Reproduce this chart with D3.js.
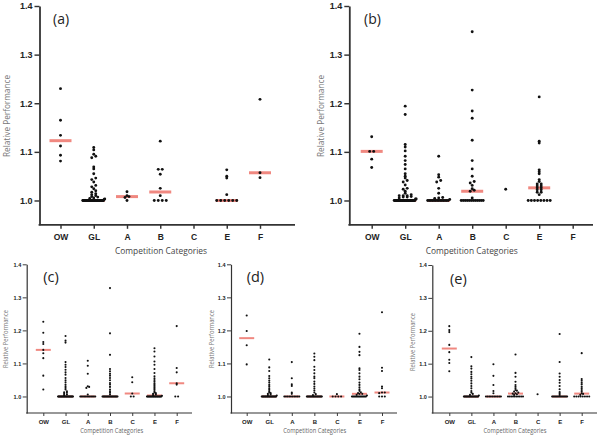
<!DOCTYPE html>
<html><head><meta charset="utf-8">
<script src="https://cdn.jsdelivr.net/npm/d3@7"></script>
<style>body{margin:0;background:#fff}</style>
</head><body><svg id="chart" width="600" height="439"></svg>
<script>
const categories = ["OW","GL","A","B","C","E","F"];
const yTicks = [1.0, 1.1, 1.2, 1.3, 1.4];
const yTickLabels = ["1.0","1.1","1.2","1.3","1.4"];
const panelLabels = ["(a)","(b)","(c)","(d)","(e)"];
const xTitle = "Competition Categories";
const yTitle = "Relative Performance";

// Panel (a) values per category: OW, GL, A, B, C, E, F
const valuesA = [
  [1.230,1.165,1.134,1.112,1.093,1.081],
  [1.109,1.104,1.095,1.091,1.088,1.069,1.065,1.055,1.046,1.043,1.038,1.031,1.028,1.024,1.020,1.017,1.014,1.012,1.010,1.008,1.007,1.005,1.004,1.003,1.002,
   1,1,1,1,1,1,1,1,1,1,1,1,1,1,1,1,1,1,1,1,1,1,1,1,1,1,1,1,1,1,1,1,1,1,1],
  [1.018,1.010,1.008,1.006,1.0],
  [1.122,1.064,1.064,1.054,1.025,1.010,1,1,1,1],
  [],
  [1.063,1.050,1.046,1.012,1,1,1,1,1,1],
  [1.208,1.057,1.047]
];
// Panel (b)
const valuesB = [
  [1.131,1.101,1.101,1.085,1.068],
  [1.194,1.177,1.115,1.110,1.102,1.091,1.082,1.074,1.065,1.055,1.050,1.046,1.041,1.038,1.032,1.025,1.023,1.019,1.015,1.012,1.010,1.010,1.010,1.008,1.007,1.007,1.005,1.003,1.003,
   1,1,1,1,1,1,1,1,1,1,1,1,1,1,1,1,1,1,1,1,1,1,1,1,1,1,1,1,1,1,1,1],
  [1.091,1.053,1.048,1.041,1.038,1.025,1.015,1.006,1.005,1.004,1.002,
   1,1,1,1,1,1,1,1,1,1,1,1,1,1],
  [1.347,1.227,1.184,1.169,1.124,1.082,1.065,1.050,1.039,1.036,1.031,1.024,1.021,1.019,1.005,
   1,1,1,1,1,1,1,1,1,1,1,1],
  [1.023],
  [1.213,1.122,1.118,1.063,1.059,1.055,1.043,1.039,1.034,1.034,1.030,1.030,1.026,1.026,1.022,1.022,1.017,1.017,1.012,
   1,1,1,1,1,1,1,1],
  []
];
// Panel (c)
const valuesC = [
  [1.226,1.193,1.165,1.159,1.141,1.131,1.116,1.063,1.021],
  [1.183,1.169,1.163,1.104,1.096,1.089,1.081,1.073,1.066,1.056,1.049,1.043,1.036,1.031,1.026,1.021,1.016,1.013,1.011,1.008,1.006,1.004,
   1,1,1,1,1,1,1,1,1,1,1,1,1,1,1,1,1,1,1,1,1,1,1,1,1],
  [1.108,1.093,1.069,1.031,1.029,1.026,1.006,
   1,1,1,1,1,1,1,1,1,1,1,1],
  [1.328,1.191,1.126,1.083,1.076,1.069,1.063,1.056,1.049,1.041,1.036,1.029,1.021,1.016,1.011,1.006,
   1,1,1,1,1,1,1,1,1,1,1,1,1,1,1,1,1,1,1,1],
  [1.058,1.043,1.009,1,1],
  [1.146,1.136,1.121,1.106,1.096,1.083,1.071,1.061,1.055,1.050,1.045,1.040,1.036,1.032,1.028,1.024,1.020,1.016,1.012,1.010,1.008,1.006,1.004,1.002,
   1,1,1,1,1,1,1,1,1,1,1,1,1,1,1,1,1,1,1,1,1,1],
  [1.213,1.086,1.073,1.040,1.036,1,1]
];
// Panel (d)
const valuesD = [
  [1.245,1.198,1.155,1.097],
  [1.112,1.088,1.077,1.062,1.055,1.048,1.042,1.035,1.030,1.025,1.020,1.016,1.012,1.010,1.008,1.006,1.004,1.003,
   1,1,1,1,1,1,1,1,1,1,1,1,1,1,1,1,1,1,1,1,1,1],
  [1.104,1.055,1.037,1.032,1.012,1.008,
   1,1,1,1,1,1,1,1,1,1],
  [1.130,1.120,1.110,1.090,1.080,1.070,1.060,1.055,1.045,1.038,1.030,1.024,1.018,1.012,1.007,1.004,
   1,1,1,1,1,1,1,1,1,1,1,1,1,1,1,1,1,1,1,1],
  [1.007,1,1,1,1],
  [1.190,1.150,1.135,1.125,1.085,1.080,1.070,1.060,1.052,1.042,1.035,1.028,1.022,1.017,1.013,1.010,1.008,1.008,1.005,1.003,
   1,1,1,1,1,1,1,1,1,1,1,1,1,1,1],
  [1.255,1.087,1.077,1.030,1.025,1.012,1.012,1.010,1,1,1]
];
// Panel (e)
const valuesE = [
  [1.214,1.202,1.196,1.157,1.135,1.112,1.102,1.077],
  [1.120,1.092,1.085,1.075,1.068,1.060,1.055,1.048,1.040,1.032,1.025,1.017,1.012,1.008,1.005,1.003,
   1,1,1,1,1,1,1,1,1,1,1,1,1,1,1,1,1,1,1,1],
  [1.098,1.063,1.035,1.017,1.010,
   1,1,1,1,1,1,1,1,1,1],
  [1.128,1.072,1.060,1.045,1.035,1.030,1.025,1.020,1.018,1.015,1.012,1.010,1.009,1.007,1.005,
   1,1,1,1,1,1,1,1,1,1],
  [1.007],
  [1.190,1.105,1.070,1.060,1.050,1.042,1.032,1.022,1.014,1.010,1.005,
   1,1,1,1,1,1,1,1,1,1,1,1,1,1],
  [1.132,1.053,1.048,1.042,1.037,1.030,1.025,1.020,1.015,1.010,1.008,1.005,
   1,1,1,1,1,1,1,1]
];
const panelValues = [valuesA, valuesB, valuesC, valuesD, valuesE];

// layout (positions / styles only)
const layout = [
  {x0:39.5, x1:295, t0:60.5, t1:260, yTop:6, yBot:224.8, big:true, lab:[53,20], ytx:7, yty:116, xtx:161, xty:251},
  {x0:349.3, x1:593, t0:371.7, t1:572.7, yTop:6, yBot:224.8, big:true, lab:[364,20], ytx:321.7, yty:116, xtx:471.7, xty:251},
  {x0:26.7, x1:192, t0:43.3, t1:176.7, yTop:264.3, yBot:413, big:false, lab:[43.3,278], ytx:6.7, yty:339, xtx:111.7, xty:431.5},
  {x0:231, x1:397, t0:246.7, t1:382, yTop:264.3, yBot:413, big:false, lab:[246.7,278], ytx:212.3, yty:339, xtx:314.7, xty:431},
  {x0:432.3, x1:597, t0:449.3, t1:581.7, yTop:265, yBot:413, big:false, lab:[450,280], ytx:413.3, yty:342, xtx:515, xty:431}
];

const RED = "#f08880";
const svg = d3.select("#chart");

function swarm(vals, y, xc, sp, maxW, binH) {
  const pts = vals.map(v => ({v, py: y(v)})).sort((a,b) => b.py - a.py);
  const out = [];
  let i = 0;
  while (i < pts.length) {
    let j = i; const g = [];
    while (j < pts.length && pts[i].py - pts[j].py <= binH) { g.push(pts[j]); j++; }
    const n = g.length;
    const s = n > 1 ? Math.min(sp, maxW / (n - 1)) : 0;
    g.forEach((p, k) => { p.px = xc + (k - (n - 1) / 2) * s; out.push(p); });
    i = j;
  }
  return out;
}

panelValues.forEach((vals, pi) => {
  const L = layout[pi];
  const big = L.big;
  const g = svg.append("g");
  const y = d3.scaleLinear().domain([0.95, 1.4]).range([L.yBot, L.yTop]);
  const x = d3.scalePoint().domain(categories).range([L.t0, L.t1]);
  const axisW = big ? 1.8 : 1.2;

  // y axis
  const ya = g.append("g").attr("transform", `translate(${L.x0},0)`)
    .call(d3.axisLeft(y).tickValues(yTicks).tickFormat((d,i) => yTickLabels[i])
      .tickSize(big ? 5 : 4).tickSizeOuter(0).tickPadding(big ? 2 : 1.5));
  ya.select(".domain").attr("stroke", "#333").attr("stroke-width", axisW);
  ya.selectAll(".tick line").attr("stroke", "#333").attr("stroke-width", axisW * 0.8);
  ya.selectAll(".tick text").attr("font-family", "Liberation Sans, Arial, sans-serif")
    .attr("font-weight", "bold").attr("font-size", big ? 9 : 5.5).attr("fill", "#222");

  // x axis
  const xa = g.append("g").attr("transform", `translate(0,${L.yBot})`)
    .call(d3.axisBottom(x).tickSize(big ? 4 : 3).tickSizeOuter(0).tickPadding(big ? 5.5 : 4));
  xa.select(".domain").remove();
  xa.selectAll(".tick line").attr("stroke", "#333").attr("stroke-width", axisW * 0.8);
  xa.selectAll(".tick text").attr("font-family", "Liberation Sans, Arial, sans-serif")
    .attr("font-weight", "bold").attr("font-size", big ? 8.5 : 6).attr("fill", "#222");
  g.append("line").attr("x1", L.x0 - axisW / 2).attr("x2", L.x1)
    .attr("y1", L.yBot).attr("y2", L.yBot).attr("stroke", "#333").attr("stroke-width", axisW);

  // titles
  g.append("text").attr("x", L.xtx).attr("y", L.xty).attr("text-anchor", "middle")
    .attr("dominant-baseline", "middle")
    .attr("font-family", "Open Sans, sans-serif").attr("font-size", big ? 9.5 : 6.5)
    .attr("fill", big ? "#444" : "#666")
    .attr("textLength", big ? 92 : 63).attr("lengthAdjust", "spacingAndGlyphs")
    .text(xTitle);
  g.append("text").attr("transform", `translate(${L.ytx},${L.yty}) rotate(-90)`)
    .attr("text-anchor", "middle").attr("dominant-baseline", "middle")
    .attr("font-family", "Open Sans, sans-serif").attr("font-size", big ? 9.5 : 6.5)
    .attr("fill", "#777")
    .attr("textLength", big ? 82 : 58).attr("lengthAdjust", "spacingAndGlyphs")
    .text(yTitle);
  g.append("text").attr("x", L.lab[0]).attr("y", L.lab[1]).attr("dominant-baseline", "middle")
    .attr("font-family", "Open Sans, sans-serif").attr("font-size", big ? 14 : 14.5)
    .attr("fill", "#222").text(panelLabels[pi]);

  const lineW = big ? 22 : 15, lineT = big ? 3 : 2;
  const r = big ? 1.45 : 1.05;
  // median lines
  vals.forEach((arr, ci) => {
    if (arr.length < 2) return;
    const m = d3.median(arr);
    const xc = x(categories[ci]);
    g.append("line").attr("x1", xc - lineW / 2).attr("x2", xc + lineW / 2)
      .attr("y1", y(m)).attr("y2", y(m)).attr("stroke", RED).attr("stroke-width", lineT);
  });
  // dots
  vals.forEach((arr, ci) => {
    const xc = x(categories[ci]);
    const pts = swarm(arr, y, xc, big ? 4 : 2.8, big ? 22 : 15, big ? 1.6 : 1.2);
    g.selectAll(null).data(pts).enter().append("circle")
      .attr("cx", d => d.px).attr("cy", d => d.py).attr("r", r).attr("fill", "#111");
  });
});
</script>
</body></html>
